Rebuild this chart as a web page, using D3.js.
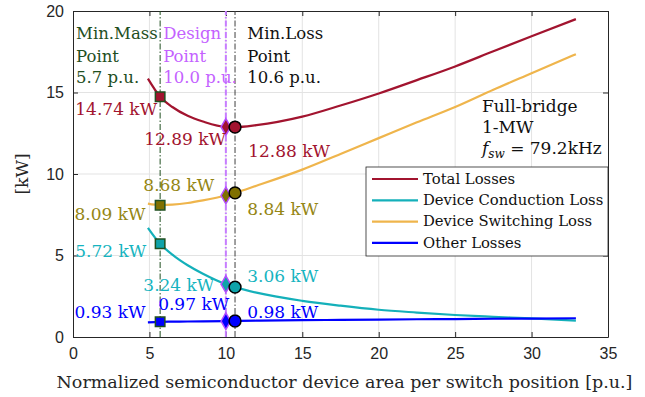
<!DOCTYPE html>
<html>
<head>
<meta charset="utf-8">
<script src="https://cdn.jsdelivr.net/npm/d3@7"></script>
<style>
  body { margin: 0; background: #fff; }
  svg { display: block; }
</style>
</head>
<body>
<script>
const width = 645;
const height = 397;
const margin = { top: 11, right: 37, bottom: 60, left: 73 };

// device area [p.u.] and loss components [kW]
const area = [4.9, 5.7, 6.5, 7.5, 8.5, 10, 10.6, 12, 15, 17.5, 20, 22.5, 25, 27.5, 30, 32.9];
const totalLoss = [15.85, 14.74, 14.11, 13.57, 13.22, 12.89, 12.88, 13.0, 13.52, 14.2, 14.94, 15.76, 16.6, 17.53, 18.45, 19.5];
const conductionLoss = [6.7, 5.72, 5.05, 4.4, 3.88, 3.24, 3.06, 2.72, 2.22, 1.92, 1.67, 1.5, 1.35, 1.24, 1.14, 1.0];
const switchingLoss = [8.18, 8.09, 8.12, 8.22, 8.38, 8.68, 8.84, 9.28, 10.27, 11.23, 12.2, 13.17, 14.11, 15.17, 16.18, 17.35];
const otherLoss = [0.9, 0.93, 0.94, 0.95, 0.96, 0.97, 0.98, 1.0, 1.03, 1.05, 1.07, 1.09, 1.1, 1.12, 1.13, 1.15];

const xTicks = [0, 5, 10, 15, 20, 25, 30, 35];
const yTicks = [0, 5, 10, 15, 20];

// highlighted operating points
const points = [
  { name: "Min.Mass", x: 5.7, lineColor: "#1f4f1f", lineWidth: 1, shape: "square", edge: "#1f4f1f" },
  { name: "Design", x: 10.0, lineColor: "#c77dff", lineWidth: 2, shape: "diamond", edge: "#b44dff" },
  { name: "Min.Loss", x: 10.6, lineColor: "#404040", lineWidth: 1, shape: "circle", edge: "#000" }
];

const series = [
  { name: "Total Losses", values: totalLoss, color: "#a2142f", marker: "#a2142f" },
  { name: "Device Conduction Loss", values: conductionLoss, color: "#14b0ba", marker: "#0fa3aa" },
  { name: "Device Switching Loss", values: switchingLoss, color: "#efb54c", marker: "#807000" },
  { name: "Other Losses", values: otherLoss, color: "#0000ff", marker: "#0000ff" }
];

// header text for each point
const headers = [
  { lines: ["Min.Mass", "Point", "5.7 p.u."], color: "#1f4f1f", x: 0.2 },
  { lines: ["Design", "Point", "10.0 p.u."], color: "#c462ff", x: 5.9 },
  { lines: ["Min.Loss", "Point", "10.6 p.u."], color: "#111", x: 11.4 }
];
const headerY = [18.28, 16.87, 15.58];

// value labels (position in data units)
const valueLabels = [
  { text: "14.74 kW", color: "#a2142f", x: 0.15, y: 13.62 },
  { text: "12.89 kW", color: "#a2142f", x: 4.66, y: 11.78 },
  { text: "12.88 kW", color: "#a2142f", x: 11.46, y: 11.04 },
  { text: "8.68 kW", color: "#958614", x: 4.6, y: 8.96 },
  { text: "8.09 kW", color: "#958614", x: 0.1, y: 7.18 },
  { text: "8.84 kW", color: "#958614", x: 11.4, y: 7.48 },
  { text: "5.72 kW", color: "#16b4c0", x: 0.15, y: 4.91 },
  { text: "3.24 kW", color: "#16b4c0", x: 4.6, y: 2.82 },
  { text: "3.06 kW", color: "#16b4c0", x: 11.4, y: 3.37 },
  { text: "0.93 kW", color: "#0000ff", x: 0.1, y: 1.17 },
  { text: "0.97 kW", color: "#0000ff", x: 5.57, y: 1.66 },
  { text: "0.98 kW", color: "#0000ff", x: 11.4, y: 1.17 }
];

const serif = "'DejaVu Serif', 'Liberation Serif', 'Noto Serif', serif";
const sans = "'Liberation Sans', Arial, sans-serif";
const axisColor = "#262626";
const fs = "17px";

const svg = d3.select("body")
  .append("svg")
  .attr("width", width)
  .attr("height", height);

const x = d3.scaleLinear().domain([0, 35]).range([margin.left, width - margin.right]);
const y = d3.scaleLinear().domain([0, 20]).range([height - margin.bottom, margin.top]);

// grid
svg.append("g")
  .selectAll("line")
  .data(xTicks.slice(1, -1))
  .join("line")
  .attr("x1", (d) => x(d)).attr("x2", (d) => x(d))
  .attr("y1", y(0)).attr("y2", y(20))
  .attr("stroke", "#e3e3e3");

svg.append("g")
  .selectAll("line")
  .data(yTicks.slice(1, -1))
  .join("line")
  .attr("x1", x(0)).attr("x2", x(35))
  .attr("y1", (d) => y(d)).attr("y2", (d) => y(d))
  .attr("stroke", "#e3e3e3");

// axes
const tickFmt = (d) => d;
svg.append("g")
  .attr("transform", `translate(0,${y(0)})`)
  .call(d3.axisBottom(x).tickValues(xTicks).tickFormat(tickFmt).tickSizeInner(-5).tickSizeOuter(0).tickPadding(11));
svg.append("g")
  .attr("transform", `translate(0,${y(20)})`)
  .call(d3.axisTop(x).tickValues(xTicks).tickFormat("").tickSizeInner(-5).tickSizeOuter(0));
svg.append("g")
  .attr("transform", `translate(${x(0)},0)`)
  .call(d3.axisLeft(y).tickValues(yTicks).tickFormat(tickFmt).tickSizeInner(-5).tickSizeOuter(0).tickPadding(9));
svg.append("g")
  .attr("transform", `translate(${x(35)},0)`)
  .call(d3.axisRight(y).tickValues(yTicks).tickFormat("").tickSizeInner(-5).tickSizeOuter(0));

svg.selectAll(".domain").attr("stroke", axisColor);
svg.selectAll(".tick line").attr("stroke", axisColor);
svg.selectAll(".tick text")
  .attr("fill", axisColor)
  .attr("font-family", sans)
  .attr("font-size", "16px");

// vertical marker lines
svg.append("g")
  .selectAll("line")
  .data(points)
  .join("line")
  .attr("x1", (d) => x(d.x)).attr("x2", (d) => x(d.x))
  .attr("y1", y(0)).attr("y2", y(20))
  .attr("stroke", (d) => d.lineColor)
  .attr("stroke-width", (d) => d.lineWidth)
  .attr("stroke-dasharray", "6,2,1.5,2");

// curves
const line = d3.line()
  .x((d, i) => x(area[i]))
  .y((d) => y(d))
  .curve(d3.curveMonotoneX);

svg.append("g")
  .selectAll("path")
  .data(series)
  .join("path")
  .attr("d", (d) => line(d.values))
  .attr("fill", "none")
  .attr("stroke", (d) => d.color)
  .attr("stroke-width", 2.2);

// markers
const markerData = [];
points.forEach((p) => {
  const idx = area.indexOf(p.x);
  series.forEach((s) => markerData.push({ p, s, v: s.values[idx] }));
});

svg.append("g")
  .selectAll("path")
  .data(markerData)
  .join("path")
  .attr("transform", (d) => `translate(${x(d.p.x)},${y(d.v)})`)
  .attr("d", (d) => {
    if (d.p.shape === "square") return d3.symbol(d3.symbolSquare, 90)();
    if (d.p.shape === "diamond") return d3.symbol(d3.symbolDiamond, 80)();
    return d3.symbol(d3.symbolCircle, 110)();
  })
  .attr("fill", (d) => d.s.marker)
  .attr("stroke", (d) => d.p.edge)
  .attr("stroke-width", 1.5);

// header annotations
const hdr = svg.append("g")
  .selectAll("text")
  .data(headers)
  .join("text")
  .attr("fill", (d) => d.color)
  .attr("font-family", serif)
  .attr("font-size", "16.5px");
hdr.selectAll("tspan")
  .data((d) => d.lines.map((t, i) => ({ t, x: d.x, i })))
  .join("tspan")
  .attr("x", (d) => x(d.x))
  .attr("y", (d) => y(headerY[d.i]))
  .text((d) => d.t);

// value labels
svg.append("g")
  .selectAll("text")
  .data(valueLabels)
  .join("text")
  .attr("x", (d) => x(d.x))
  .attr("y", (d) => y(d.y))
  .attr("fill", (d) => d.color)
  .attr("font-family", serif)
  .attr("font-size", fs)
  .text((d) => d.text);

// converter info
const info = svg.append("text")
  .attr("fill", "#111")
  .attr("font-family", serif)
  .attr("font-size", fs);
info.append("tspan").attr("x", 482).attr("y", 112).text("Full-bridge");
info.append("tspan").attr("x", 482).attr("y", 133).text("1-MW");
const f = info.append("tspan").attr("x", 482).attr("y", 154);
f.append("tspan").attr("font-style", "italic").text("f");
f.append("tspan").attr("font-style", "italic").attr("font-size", "12px").attr("dy", 4).text("sw");
f.append("tspan").attr("dy", -4).text(" = 79.2kHz");

// legend
const legend = svg.append("g").attr("transform", "translate(366,167)");
legend.append("rect")
  .attr("width", 242)
  .attr("height", 89)
  .attr("fill", "#fff")
  .attr("stroke", axisColor)
  .attr("stroke-width", 0.8);
const li = legend.selectAll("g")
  .data(series)
  .join("g")
  .attr("transform", (d, i) => `translate(0,${12 + i * 21.3})`);
li.append("line")
  .attr("x1", 6).attr("x2", 52)
  .attr("stroke", (d) => d.color)
  .attr("stroke-width", 2.2);
li.append("text")
  .attr("x", 57)
  .attr("dy", "0.33em")
  .attr("fill", "#111")
  .attr("font-family", serif)
  .attr("font-size", "14.8px")
  .text((d) => d.name);

// axis titles
svg.append("text")
  .attr("x", (x(0) + x(35)) / 2 + 4)
  .attr("y", 388)
  .attr("text-anchor", "middle")
  .attr("fill", "#262626")
  .attr("font-family", serif)
  .attr("font-size", "17.5px")
  .text("Normalized semiconductor device area per switch position [p.u.]");

svg.append("text")
  .attr("transform", `translate(28,${(y(0) + y(20)) / 2}) rotate(-90)`)
  .attr("text-anchor", "middle")
  .attr("fill", "#262626")
  .attr("font-family", serif)
  .attr("font-size", fs)
  .text("[kW]");
</script>
</body>
</html>
